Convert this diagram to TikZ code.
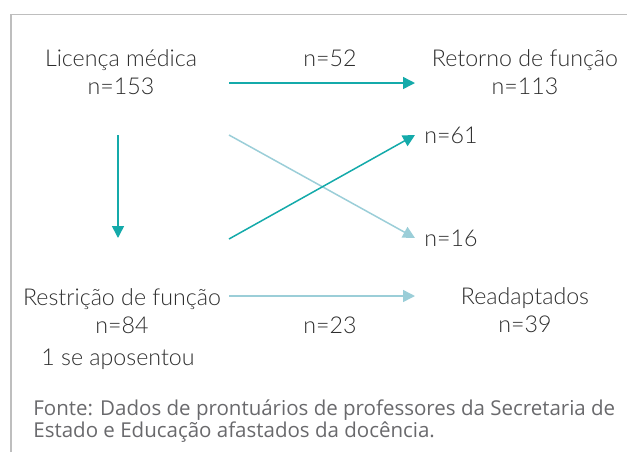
\documentclass[tikz,border=0pt]{standalone}
\usepackage{fontspec}
\setmainfont{Lato}[UprightFont=* Light]
\newfontfamily\fontefont{Open Sans}
\usepackage{tikz}
\usetikzlibrary{arrows.meta}
\definecolor{tealdark}{RGB}{20,170,170}
\definecolor{teallight}{RGB}{155,206,216}
\definecolor{txtgray}{RGB}{45,45,45}
\definecolor{fontegray}{RGB}{105,105,108}
\definecolor{framegray}{RGB}{190,190,190}

\begin{document}
\begin{tikzpicture}[x=0.5pt,y=-0.5pt,
every node/.style={inner sep=0pt,text=txtgray,font=\fontsize{11.6}{14}\selectfont},
box/.style={align=center,anchor=base},
flow/.style={line width=0.75pt,-{Triangle[length=6pt,width=6pt]}},
dark/.style={flow,draw=tealdark,fill=tealdark},
light/.style={flow,draw=teallight,fill=teallight}]
%frame
\useasboundingbox (0,0) rectangle (627,452);
\draw[framegray,line width=0.75pt] (11,452) -- (11,14.5) -- (627,14.5);

%the four groups (base is the last line)
\node[box](lic) at (121,94) {Licença médica\\n=153};
\node[box](ret) at (525,94) {Retorno de função\\n=113};
\node[box](res) at (122,333) {Restrição de função\\n=84};
\node[box](rea) at (525,332) {Readaptados\\n=39};
\node[anchor=base](apo) at (118,365) {1 se aposentou};

%counts on the arrows
\node[anchor=base](n52) at (330,66) {n=52};
\node[anchor=base](n23) at (330,333) {n=23};
\node[anchor=west](n61) at (424,135) {n=61};
\node[anchor=west](n16) at (424,238) {n=16};

%arrow ends
\coordinate(licR) at (229,83);
\coordinate(licB) at (118,135);
\coordinate(licX) at (229,135);
\coordinate(resT) at (118,238);
\coordinate(resX) at (229,239);
\coordinate(resR) at (229,296);
\coordinate(retL) at (415,83);
\coordinate(reaL) at (415,296);

\draw[dark] (licR) -- (retL);
\draw[dark] (licB) -- (resT);
\draw[light] (licX) -- ([xshift=-4.5pt]n16.west);
\draw[dark] (resX) -- ([xshift=-4.5pt]n61.west);
\draw[light] (resR) -- (reaL);

%source
\node[anchor=base west,align=left,text=fontegray,font=\fontefont\fontsize{10.25}{11}\selectfont](src) at (33,437)
{Fonte: Dados de prontuários de professores da Secretaria de\\Estado e Educação afastados da docência.};
\end{tikzpicture}
\end{document}
